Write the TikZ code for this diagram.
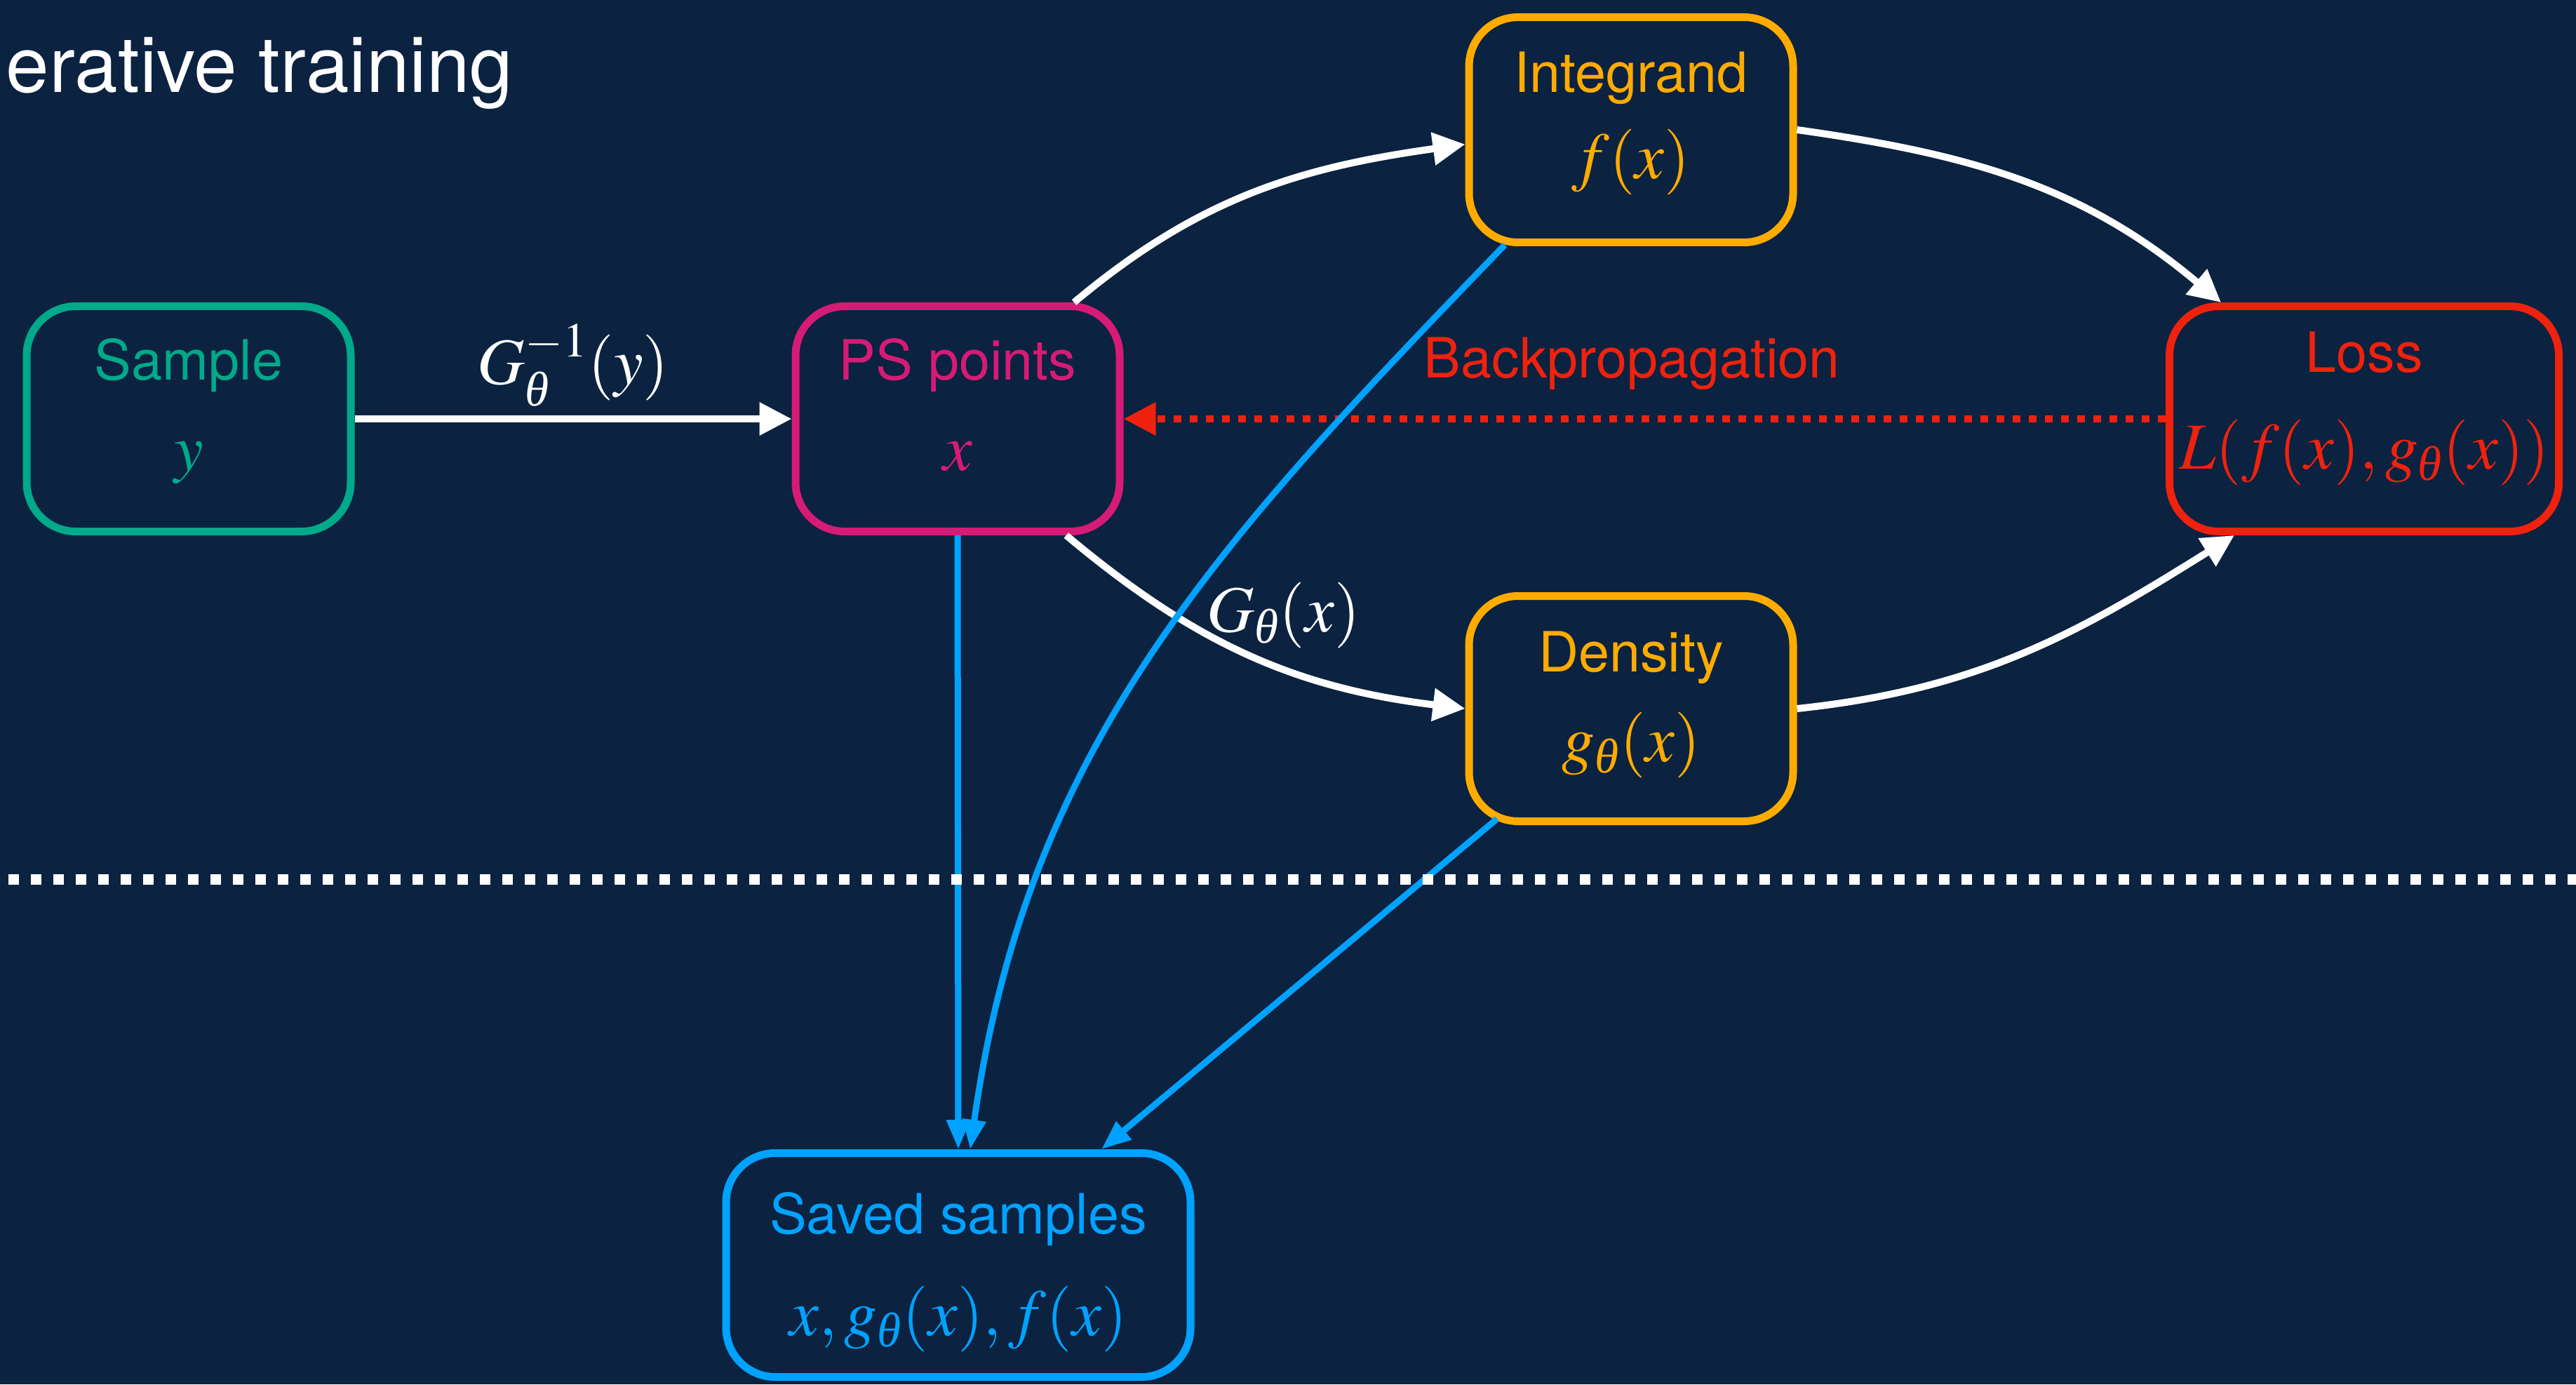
\documentclass[tikz,border=0pt]{standalone}
\usepackage{amsmath}
\usepackage{mathptmx}
\usepackage[no-math]{fontspec}
\setmainfont{Liberation Serif}
\setsansfont{TeX Gyre Heros}
\usepackage{tikz}
\usetikzlibrary{arrows.meta}
\usepackage{xcolor}
\definecolor{bgnavy}{RGB}{11,34,64}
\definecolor{sgreen}{RGB}{0,169,138}
\definecolor{pmagenta}{RGB}{214,27,118}
\definecolor{iorange}{RGB}{255,171,0}
\definecolor{lred}{RGB}{238,34,14}
\definecolor{sblue}{RGB}{0,162,255}
\newcommand{\ttlfont}{\sffamily\fontsize{22.5}{27}\selectfont}
\newcommand{\eqfont}{\fontsize{26.7}{32}\selectfont}
\newcommand{\tht}{\textit{θ}}
\tikzset{
  blk/.style={draw, line width=0.11cm, rounded corners=0.7cm, minimum width=4.62cm, minimum height=3.21cm},
  ttl/.style={anchor=base, font=\ttlfont, inner sep=0pt},
  eq/.style={anchor=base, font=\eqfont, inner sep=0pt},
  wline/.style={white, line width=0.1cm, -{Triangle[length=0.46cm,width=0.45cm]}},
  bline/.style={sblue, line width=0.09cm, -{Triangle[length=0.42cm,width=0.32cm]}},
  rline/.style={lred, line width=0.1cm, dash pattern=on 0.11cm off 0.12cm, -{Triangle[length=0.46cm,width=0.45cm]}},
  sepline/.style={white, line width=0.15cm, dash pattern=on 0.15cm off 0.17cm}
}

\begin{document}
\begin{tikzpicture}
        \fill[bgnavy] (0,0) rectangle (36.72,19.73);
        \useasboundingbox (0,0) rectangle (36.72,19.73);
        \node[ttl, anchor=base west, text=white, font=\sffamily\fontsize{31.5}{36}\selectfont] (title) at (0.08,18.41) {erative training};

        \node[blk, sgreen] (sample) at (2.69,13.76) {};
        \node[blk, pmagenta] (ps) at (13.65,13.76) {};
        \node[blk, iorange] (integrand) at (23.25,17.88) {};
        \node[blk, iorange] (density) at (23.25,9.63) {};
        \node[blk, lred, minimum width=5.55cm] (loss) at (33.70,13.76) {};
        \node[blk, sblue, minimum width=6.62cm, minimum height=3.19cm] (saved) at (13.66,1.70) {};

        \node[ttl, text=sgreen] (sampleT) at ([yshift=0.55cm]sample.center) {Sample};
        \node[eq, text=sgreen] (sampleM) at ([yshift=-0.73cm]sample.center) {$y$};
        \node[ttl, text=pmagenta] (psT) at ([yshift=0.55cm]ps.center) {PS points};
        \node[eq, text=pmagenta] (psM) at ([yshift=-0.73cm]ps.center) {$x$};
        \node[ttl, text=iorange] (integrandT) at ([yshift=0.53cm]integrand.center) {Integrand};
        \node[eq, text=iorange] (integrandM) at ([yshift=-0.70cm]integrand.center) {$f(x)$};
        \node[ttl, text=iorange] (densityT) at ([yshift=0.53cm]density.center) {Density};
        \node[eq, text=iorange] (densityM) at ([yshift=-0.75cm]density.center) {$g_{\tht}(x)$};
        \node[ttl, text=lred] (lossT) at ([yshift=0.66cm]loss.center) {Loss};
        \node[eq, text=lred] (lossM) at ([yshift=-0.71cm]loss.center) {$L(f(x), g_{\tht}(x))$};
        \node[ttl, text=sblue] (savedT) at ([yshift=0.45cm]saved.center) {Saved samples};
        \node[eq, text=sblue] (savedM) at ([yshift=-1.00cm]saved.center) {$x, g_{\tht}(x), f(x)$};

        \draw[wline] (sample) -- node[eq, text=white, midway, yshift=0.5cm] {$G_{\tht}^{-1}(y)$} (ps);
        \draw[wline] (ps.45) to[out=40, in=188] (integrand.185);
        \draw[wline] (integrand.east) to[out=-8, in=140] ([xshift=-2.04cm]loss.north);
        \draw[wline] (ps.313) to[out=-40, in=173] node[eq, text=white, pos=0.37, anchor=base west] {$G_{\tht}(x)$} (density.west);
        \draw[wline] (density.east) to[out=6, in=212] ([xshift=-1.85cm]loss.south);
        \draw[rline] (loss.west) -- node[ttl, text=lred, midway, xshift=-0.18cm, yshift=0.59cm] {Backpropagation} (ps.east);

        \draw[bline] (ps.south) -- (saved.north);
        \draw[bline] ([xshift=-1.8cm,yshift=-1.64cm]integrand.center) to[out=226, in=82] ([xshift=0.17cm]saved.north);
        \draw[bline] ([xshift=-1.91cm,yshift=-1.57cm]density.center) -- ([xshift=2.04cm]saved.north);

        \coordinate (sepL) at (0.12,7.20);
        \coordinate (sepR) at (36.72,7.20);
        \draw[sepline] (sepL) -- (sepR);
\end{tikzpicture}
\end{document}
